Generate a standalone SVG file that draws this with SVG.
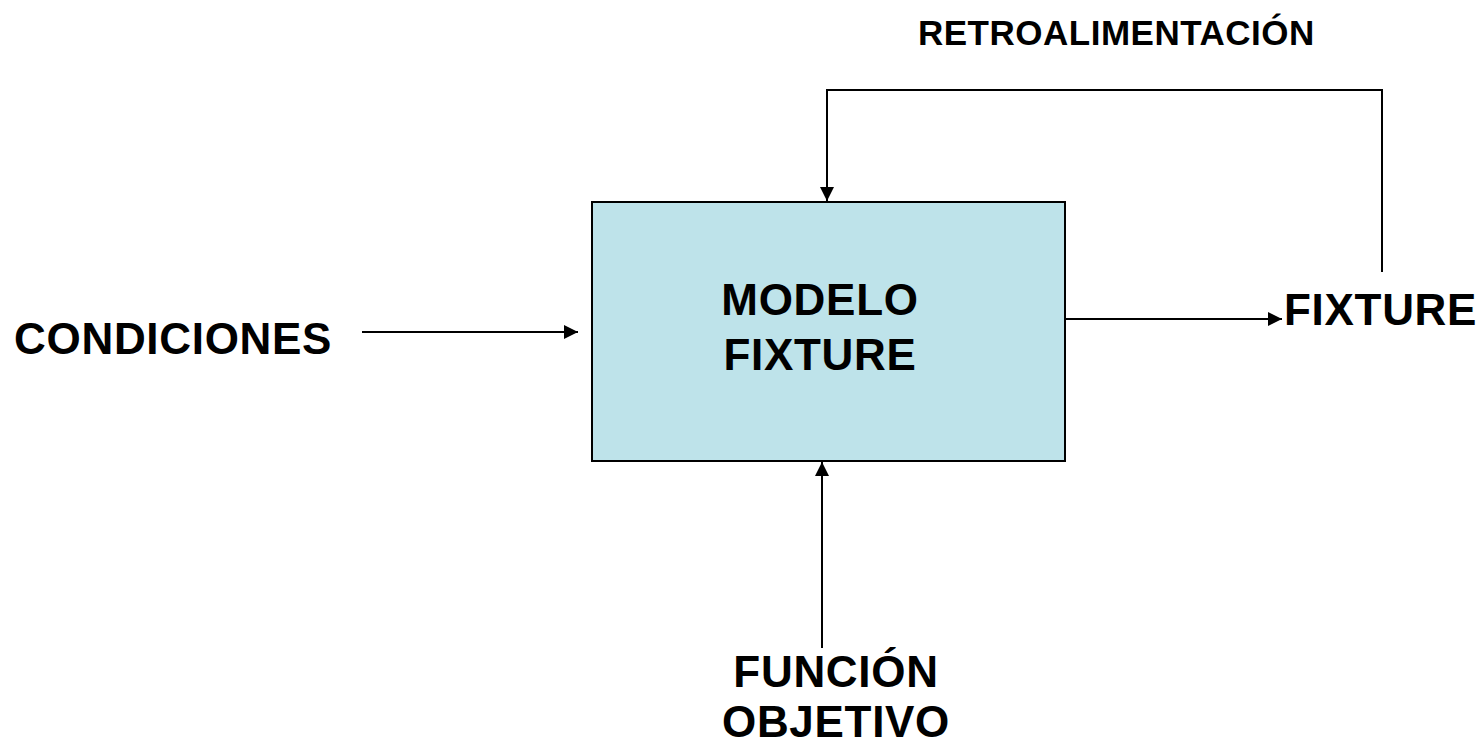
<svg xmlns="http://www.w3.org/2000/svg" width="1482" height="744" viewBox="0 0 1482 744">
<style>
text{font-family:"Liberation Sans",Arial,sans-serif;font-weight:bold;fill:#000;}
.big{font-size:44px;letter-spacing:0.7px;}
.fb{font-size:35px;letter-spacing:0.5px;}
.conn{fill:none;stroke:#000;stroke-width:2;}
</style>
<defs>
<marker id="arr" viewBox="0 0 10 10" refX="10" refY="5" markerWidth="7" markerHeight="7" markerUnits="strokeWidth" orient="auto">
<path d="M0,0 L10,5 L0,10 Z" fill="#000"/>
</marker>
</defs>
<rect width="1482" height="744" fill="#fff"/>
<g id="node-modelo">
<rect x="592" y="202" width="473" height="259" fill="#bee3ea" stroke="#000" stroke-width="2"/>
<text class="big" x="820" y="315" text-anchor="middle">MODELO</text>
<text class="big" x="820" y="370" text-anchor="middle">FIXTURE</text>
</g>
<g id="node-condiciones">
<text class="big" x="14" y="354">CONDICIONES</text>
</g>
<g id="node-fixture">
<text class="big" x="1284" y="325">FIXTURE</text>
</g>
<g id="node-funcion">
<text class="big" x="836" y="687" text-anchor="middle">FUNCIÓN</text>
<text class="big" x="836" y="737" text-anchor="middle">OBJETIVO</text>
</g>
<g id="node-retro">
<text class="fb" x="918" y="45">RETROALIMENTACIÓN</text>
</g>
<g id="connectors">
<line class="conn" x1="362" y1="332" x2="578" y2="332" marker-end="url(#arr)"/>
<line class="conn" x1="1066" y1="319" x2="1282" y2="319" marker-end="url(#arr)"/>
<line class="conn" x1="822" y1="648" x2="822" y2="462" marker-end="url(#arr)"/>
<polyline class="conn" points="1382,272 1382,90 827,90 827,201" marker-end="url(#arr)"/>
</g>
</svg>
